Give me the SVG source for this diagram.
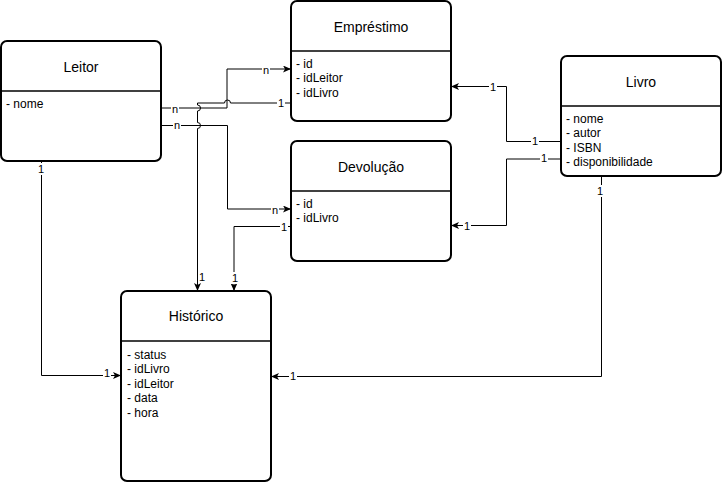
<svg xmlns="http://www.w3.org/2000/svg" width="722" height="483" viewBox="0 0 722 483">
  <style>
    .box { fill: #ffffff; stroke: #000000; stroke-width: 2; }
    .div { stroke: #000000; stroke-width: 1.5; }
    .title { font-family: "Liberation Sans", Arial, sans-serif; font-size: 14px; fill: #000000; text-anchor: middle; }
    .attr { font-family: "Liberation Sans", Arial, sans-serif; font-size: 12px; fill: #000000; }
    .edge { fill: none; stroke: #000000; stroke-width: 1; }
    .lbl { font-family: "Liberation Sans", Arial, sans-serif; font-size: 11px; fill: #000000; text-anchor: middle; }
    .lblbg { fill: #ffffff; }
  </style>
  <defs>
    <marker id="arrow" markerUnits="userSpaceOnUse" viewBox="0 0 8 7" markerWidth="8" markerHeight="7" refX="8" refY="3.5" orient="auto">
      <path d="M0,0 L8,3.5 L0,7 L2,3.5 Z" fill="#000000"/>
    </marker>
  </defs>

  <rect width="722" height="483" fill="#ffffff"/>

  <!-- connectors -->
  <g id="connectors">
    <!-- Leitor -> Empréstimo -->
    <path class="edge" d="M161,108 H227 V69 H291" marker-end="url(#arrow)"/>
    <!-- Leitor -> Devolução -->
    <path class="edge" d="M161,125.5 H227.5 V209 H291" marker-end="url(#arrow)"/>
    <!-- Empréstimo -> Histórico (jumps over crossings) -->
    <path class="edge" d="M291,103 H230.5 A3,3 0 0 0 224.5,103 H197.5 V105 A3,3 0 0 1 197.5,111 V122.5 A3,3 0 0 1 197.5,128.5 V291" marker-end="url(#arrow)"/>
    <!-- Devolução -> Histórico -->
    <path class="edge" d="M291,226.5 H234 V291" marker-end="url(#arrow)"/>
    <!-- Livro -> Empréstimo -->
    <path class="edge" d="M561,141.5 H506.5 V86.5 H451" marker-end="url(#arrow)"/>
    <!-- Livro -> Devolução -->
    <path class="edge" d="M561,159 H506.5 V225.5 H451" marker-end="url(#arrow)"/>
    <!-- Livro -> Histórico -->
    <path class="edge" d="M601.5,177 V376.5 H271" marker-end="url(#arrow)"/>
    <!-- Leitor -> Histórico -->
    <path class="edge" d="M41.5,161 V375.5 H121" marker-end="url(#arrow)"/>

    <!-- multiplicity labels -->
    <g id="edge-labels">
      <rect class="lblbg" x="171" y="103" width="8" height="12"/><text class="lbl" x="175" y="113">n</text>
      <rect class="lblbg" x="262" y="64" width="8" height="12"/><text class="lbl" x="266" y="74">n</text>
      <rect class="lblbg" x="173" y="120" width="8" height="12"/><text class="lbl" x="177" y="129">n</text>
      <rect class="lblbg" x="271" y="204" width="8" height="12"/><text class="lbl" x="275" y="214">n</text>
      <rect class="lblbg" x="277" y="97" width="8" height="12"/><text class="lbl" x="281" y="107">1</text>
      <text class="lbl" x="202" y="281">1</text>
      <rect class="lblbg" x="280" y="221" width="8" height="12"/><text class="lbl" x="284" y="231">1</text>
      <rect class="lblbg" x="231" y="272" width="8" height="12"/><text class="lbl" x="235" y="282">1</text>
      <rect class="lblbg" x="531" y="135" width="8" height="12"/><text class="lbl" x="535" y="145">1</text>
      <rect class="lblbg" x="489" y="81" width="8" height="12"/><text class="lbl" x="493" y="91">1</text>
      <rect class="lblbg" x="540" y="152" width="8" height="12"/><text class="lbl" x="544" y="162">1</text>
      <rect class="lblbg" x="463" y="220" width="8" height="12"/><text class="lbl" x="467" y="230">1</text>
      <rect class="lblbg" x="596" y="185" width="8" height="12"/><text class="lbl" x="600" y="195">1</text>
      <rect class="lblbg" x="289" y="370" width="8" height="12"/><text class="lbl" x="293" y="380">1</text>
      <rect class="lblbg" x="37" y="163" width="8" height="12"/><text class="lbl" x="41" y="173">1</text>
      <rect class="lblbg" x="103" y="367" width="8" height="12"/><text class="lbl" x="107" y="377">1</text>
    </g>
  </g>

  <!-- entities -->
  <g id="leitor">
    <rect class="box" x="1" y="41" width="160" height="120" rx="6" ry="6"/>
    <line class="div" x1="1" y1="91" x2="161" y2="91"/>
    <text class="title" x="81" y="72">Leitor</text>
    <text class="attr" x="6" y="108">- nome</text>
  </g>

  <g id="emprestimo">
    <rect class="box" x="291" y="1" width="160" height="120" rx="6" ry="6"/>
    <line class="div" x1="291" y1="51" x2="451" y2="51"/>
    <text class="title" x="371" y="32">Empréstimo</text>
    <text class="attr" x="296" y="68">- id</text>
    <text class="attr" x="296" y="82.4">- idLeitor</text>
    <text class="attr" x="296" y="96.8">- idLivro</text>
  </g>

  <g id="devolucao">
    <rect class="box" x="291" y="141" width="160" height="120" rx="6" ry="6"/>
    <line class="div" x1="291" y1="191" x2="451" y2="191"/>
    <text class="title" x="371" y="172">Devolução</text>
    <text class="attr" x="296" y="208">- id</text>
    <text class="attr" x="296" y="222.4">- idLivro</text>
  </g>

  <g id="livro">
    <rect class="box" x="561" y="56" width="160" height="120" rx="6" ry="6"/>
    <line class="div" x1="561" y1="106" x2="721" y2="106"/>
    <text class="title" x="641" y="87">Livro</text>
    <text class="attr" x="566" y="123">- nome</text>
    <text class="attr" x="566" y="137.4">- autor</text>
    <text class="attr" x="566" y="151.8">- ISBN</text>
    <text class="attr" x="566" y="166.2">- disponibilidade</text>
  </g>

  <g id="historico">
    <rect class="box" x="121" y="291" width="150" height="190" rx="6" ry="6"/>
    <line class="div" x1="121" y1="341" x2="271" y2="341"/>
    <text class="title" x="196" y="321">Histórico</text>
    <text class="attr" x="127" y="359">- status</text>
    <text class="attr" x="127" y="373.4">- idLivro</text>
    <text class="attr" x="127" y="387.8">- idLeitor</text>
    <text class="attr" x="127" y="402.2">- data</text>
    <text class="attr" x="127" y="416.6">- hora</text>
  </g>
</svg>
